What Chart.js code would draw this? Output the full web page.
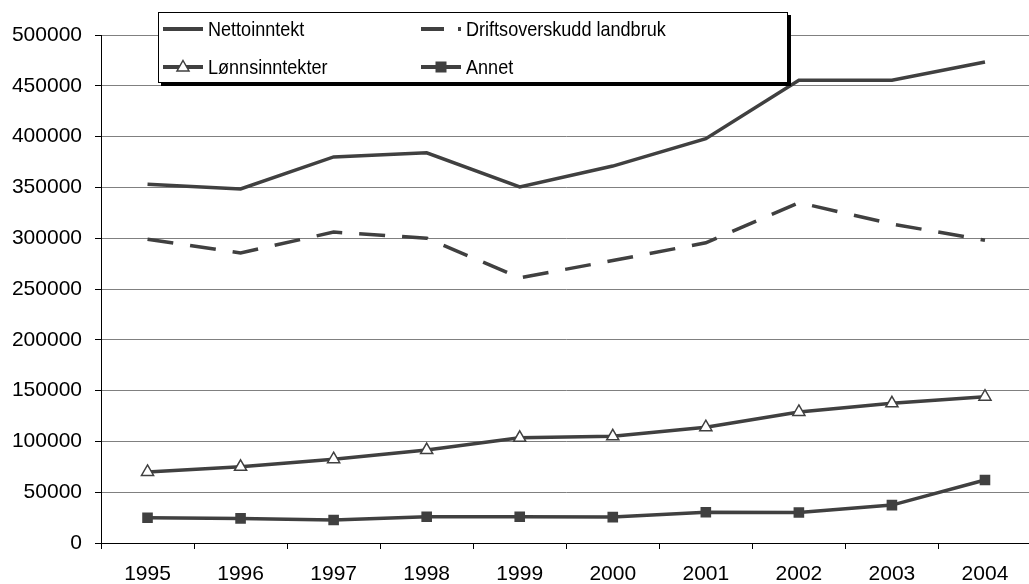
<!DOCTYPE html>
<html>
<head>
<meta charset="utf-8">
<script src="https://cdn.jsdelivr.net/npm/chart.js@4/dist/chart.umd.min.js"></script>
<style>
  html, body { margin: 0; padding: 0; background: #fff; overflow: hidden; }
  #wrap { width: 1040px; height: 584px; position: relative; }
</style>
</head>
<body>
<div id="wrap"><canvas id="myChart" width="1040" height="584"></canvas></div>
<script>
// data
const years = ["1995", "1996", "1997", "1998", "1999", "2000", "2001", "2002", "2003", "2004"];
const nettoinntekt = [353000, 348500, 380000, 384000, 350500, 371000, 398000, 455500, 455500, 473500];
const driftsoverskudd = [299000, 285500, 306000, 300000, 261000, 278000, 295500, 335000, 314000, 298000];
const lonnsinntekter = [70000, 75000, 82500, 91500, 103500, 105000, 114000, 129000, 137500, 144000];
const annet = [24800, 24200, 22600, 25800, 25800, 25500, 30300, 30000, 37300, 62000];
const yTicks = [0, 50000, 100000, 150000, 200000, 250000, 300000, 350000, 400000, 450000, 500000];

const lineColor = '#404040';
const font = 'Liberation Sans, Arial, sans-serif';

// legend drawn by hand: box with shadow sitting over the plot
const boxLegend = {
    id: 'boxLegend',
    afterDraw(chart) {
        const ctx = chart.ctx;
        const x0 = 158, y0 = 12, x1 = 788, y1 = 83;
        ctx.save();
        ctx.fillStyle = '#000';
        ctx.fillRect(x0 + 3, y0 + 3, x1 - x0, y1 - y0);
        ctx.fillStyle = '#fff';
        ctx.fillRect(x0, y0, x1 - x0, y1 - y0);
        ctx.strokeStyle = '#000';
        ctx.lineWidth = 1;
        ctx.strokeRect(x0 + 0.5, y0 + 0.5, x1 - x0 - 1, y1 - y0 - 1);

        const items = [
            { label: 'Nettoinntekt', x: 163, y: 29, dash: [], marker: null },
            { label: 'Driftsoverskudd landbruk', x: 421, y: 29, dash: [23, 14], marker: null },
            { label: 'Lønnsinntekter', x: 163, y: 67, dash: [], marker: 'triangle' },
            { label: 'Annet', x: 421, y: 67, dash: [], marker: 'rect' }
        ];
        items.forEach(it => {
            ctx.strokeStyle = lineColor;
            ctx.lineWidth = 4;
            ctx.lineCap = 'butt';
            ctx.setLineDash(it.dash);
            ctx.beginPath();
            ctx.moveTo(it.x, it.y);
            ctx.lineTo(it.x + 40, it.y);
            ctx.stroke();
            ctx.setLineDash([]);
            const cx = it.x + 20;
            if (it.marker === 'triangle') {
                ctx.fillStyle = '#fff';
                ctx.lineWidth = 1.5;
                ctx.beginPath();
                ctx.moveTo(cx, it.y - 6.5);
                ctx.lineTo(cx + 6, it.y + 4);
                ctx.lineTo(cx - 6, it.y + 4);
                ctx.closePath();
                ctx.fill();
                ctx.stroke();
            } else if (it.marker === 'rect') {
                ctx.fillStyle = lineColor;
                ctx.fillRect(cx - 5.5, it.y - 5.5, 11, 11);
            }
            // text in the picture is a bit narrow, so squeeze it sideways
            ctx.save();
            ctx.translate(it.x + 45, it.y + 1);
            ctx.scale(0.86, 1);
            ctx.fillStyle = '#000';
            ctx.font = '21px ' + font;
            ctx.textBaseline = 'middle';
            ctx.textAlign = 'left';
            ctx.fillText(it.label, 0, 0);
            ctx.restore();
        });
        ctx.restore();
    }
};

const ctx = document.getElementById('myChart').getContext('2d');
new Chart(ctx, {
    type: 'line',
    data: {
        labels: years,
        datasets: [
            {
                label: 'Nettoinntekt',
                data: nettoinntekt,
                borderColor: lineColor,
                borderWidth: 3.5,
                pointRadius: 0,
                tension: 0
            },
            {
                label: 'Driftsoverskudd landbruk',
                data: driftsoverskudd,
                borderColor: lineColor,
                borderWidth: 3.5,
                borderDash: [26, 17],
                pointRadius: 0,
                tension: 0
            },
            {
                label: 'Lønnsinntekter',
                data: lonnsinntekter,
                borderColor: lineColor,
                borderWidth: 3.5,
                pointStyle: 'triangle',
                pointRadius: 7,
                pointBorderWidth: 1.5,
                pointBackgroundColor: '#fff',
                pointBorderColor: lineColor,
                tension: 0
            },
            {
                label: 'Annet',
                data: annet,
                borderColor: lineColor,
                borderWidth: 3.5,
                pointStyle: 'rect',
                pointRadius: 7.5,
                pointBorderWidth: 0,
                pointBackgroundColor: lineColor,
                tension: 0
            }
        ]
    },
    options: {
        responsive: false,
        animation: false,
        devicePixelRatio: 1,
        layout: { padding: { top: 35, right: 2, left: 0, bottom: 0 } },
        plugins: {
            legend: { display: false },
            tooltip: { enabled: false }
        },
        scales: {
            x: {
                offset: true,
                afterFit(scale) { scale.height = 41; },
                grid: {
                    offset: true,
                    drawOnChartArea: false,
                    drawTicks: true,
                    tickLength: 6,
                    tickColor: '#000'
                },
                border: { color: '#000', width: 1 },
                ticks: {
                    color: '#000',
                    font: { family: font, size: 21 },
                    padding: 13,
                    maxRotation: 0
                }
            },
            y: {
                min: 0,
                max: 500000,
                afterFit(scale) { scale.width = 101; },
                afterBuildTicks(scale) { scale.ticks = yTicks.map(v => ({ value: v })); },
                grid: {
                    color: '#808080',
                    lineWidth: 1,
                    tickLength: 6,
                    tickColor: '#000'
                },
                border: { color: '#000', width: 1 },
                ticks: {
                    color: '#000',
                    font: { family: font, size: 21 },
                    padding: 13,
                    callback: v => String(v)
                }
            }
        }
    },
    plugins: [boxLegend]
});
</script>
</body>
</html>
